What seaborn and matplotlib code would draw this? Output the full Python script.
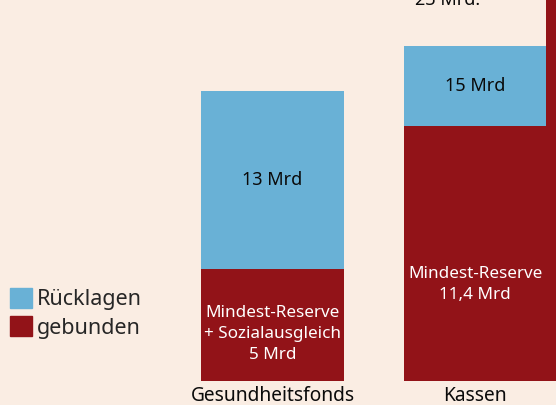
import pandas as pd
import matplotlib
matplotlib.use("Agg")
import matplotlib.pyplot as plt
import seaborn as sns
from matplotlib.patches import Patch

# --- DATA ---
# the drawing is not to scale: the blue parts are drawn shorter than their labels
categories = ["Gesundheitsfonds", "Kassen"]
gebunden = [5, 11.4]               # Mrd, drawn height
ruecklagen_drawn = [7.95, 3.57]    # drawn height of the blue part
ruecklagen_labels = ["13 Mrd", "15 Mrd"]
gebunden_labels = ["Mindest-Reserve\n+ Sozialausgleich\n5 Mrd", "Mindest-Reserve\n11,4 Mrd"]
total_label = "23 Mrd."
total_bar = 23

BG = "#FAEDE3"
BLUE = "#69B1D6"
RED = "#921318"
INK = "#0A0A0A"

sns.set_theme(style="white")
plt.rcParams["font.family"] = ["Noto Sans", "DejaVu Sans"]

df = pd.DataFrame({
    "kategorie": categories,
    "gebunden": gebunden,
    "gesamt": [g + r for g, r in zip(gebunden, ruecklagen_drawn)],
})

fig = plt.figure(figsize=(5.56, 4.05), dpi=100, facecolor=BG)
ax = fig.add_axes([0, 0, 1, 1])
ax.set_facecolor(BG)

# stacked: full bar in blue, red drawn over it from the base
sns.barplot(data=df, x="kategorie", y="gesamt", color=BLUE, width=0.704,
            saturation=1, linewidth=0, ax=ax)
sns.barplot(data=df, x="kategorie", y="gebunden", color=RED, width=0.704,
            saturation=1, linewidth=0, ax=ax)

# third (total) bar, mostly outside the visible area
ax.bar(1.352, total_bar, width=1.0, align="edge", color=RED, linewidth=0)

ax.set_xlim(-1.3457, 1.4)
ax.set_ylim(-1.07, 17.01)
ax.axis("off")

for i in range(len(categories)):
    ax.text(i, gebunden[i] + ruecklagen_drawn[i] / 2, ruecklagen_labels[i],
            ha="center", va="center", fontsize=13, color=INK)
    ax.text(i, -0.66, categories[i], ha="center", va="center",
            fontsize=13.8, color=INK)

ax.text(0, 2.1, gebunden_labels[0], ha="center", va="center",
        fontsize=12.3, color="white", linespacing=1.42)
ax.text(1, 4.33, gebunden_labels[1], ha="center", va="center",
        fontsize=12.3, color="white", linespacing=1.42)

ax.text(0.865, 16.8, total_label, ha="center", va="baseline",
        fontsize=13, color=INK)

handles = [Patch(color=BLUE, label="Rücklagen"), Patch(color=RED, label="gebunden")]
fig.legend(handles=handles, loc="upper left", bbox_to_anchor=(0.018, 0.29),
           frameon=False, fontsize=15.5, handlelength=1.0, handleheight=1.05,
           handletextpad=0.25, labelspacing=0.3, borderaxespad=0,
           borderpad=0)

fig.savefig("out.png", dpi=100, facecolor=BG)
